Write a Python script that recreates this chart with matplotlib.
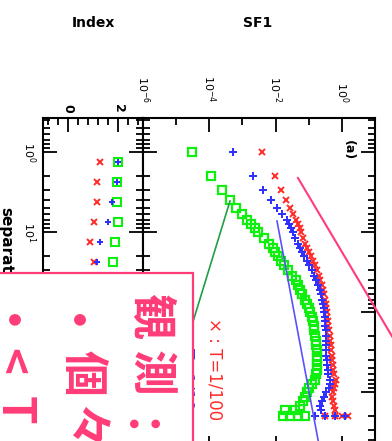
import matplotlib
matplotlib.use('Agg')
import matplotlib.pyplot as plt
from matplotlib.lines import Line2D
from matplotlib.patches import Rectangle
from matplotlib.ticker import MultipleLocator, LogLocator, NullFormatter

# ---------------- data ----------------
# structure function panel (separation vs SF1)
sep = [1, 2, 3, 4, 5, 6, 7, 8, 9, 10, 12, 14, 16, 18, 20, 23, 26, 30, 35, 40,
       46, 53, 60, 70, 80, 90, 100, 115, 130, 150, 170, 200, 230, 260, 300,
       350, 400, 460, 530, 600, 700, 800, 900, 1000, 1150, 1300, 1500, 1700, 2000]
sf1_red = [3.96e-3, 9.70e-3, 1.47e-2, 2.08e-2, 2.74e-2, 3.38e-2, 4.16e-2, 4.77e-2,
           5.48e-2, 5.87e-2, 6.74e-2, 7.74e-2, 8.89e-2, 0.102, 0.117, 0.135, 0.155,
           0.178, 0.204, 0.218, 0.251, 0.269, 0.288, 0.309, 0.331, 0.331, 0.355,
           0.355, 0.380, 0.380, 0.407, 0.436, 0.436, 0.467, 0.467, 0.501, 0.501,
           0.537, 0.537, 0.575, 0.660, 0.616, 0.575, 0.537, 0.501, 0.537, 0.575,
           0.616, 1.51]
sf1_blue = [5.33e-4, 2.12e-3, 4.24e-3, 7.38e-3, 1.12e-2, 1.58e-2, 2.23e-2, 2.56e-2,
            2.94e-2, 3.38e-2, 3.88e-2, 4.77e-2, 5.48e-2, 6.29e-2, 7.22e-2, 8.89e-2,
            0.102, 0.126, 0.144, 0.166, 0.190, 0.218, 0.234, 0.251, 0.269, 0.288,
            0.288, 0.309, 0.309, 0.309, 0.331, 0.331, 0.331, 0.331, 0.331, 0.331,
            0.355, 0.355, 0.380, 0.380, 0.436, 0.436, 0.407, 0.331, 0.288, 0.251,
            0.218, 0.234, 1.23]
sf1_green = [2.92e-5, 1.16e-4, 2.49e-4, 4.33e-4, 6.56e-4, 9.95e-4, 1.40e-3, 1.84e-3,
             2.44e-3, 3.01e-3, 4.58e-3, 6.43e-3, 8.47e-3, 9.73e-3, 1.20e-2, 1.47e-2,
             1.81e-2, 2.39e-2, 3.15e-2, 4.16e-2, 4.77e-2, 5.48e-2, 6.29e-2, 7.74e-2,
             8.89e-2, 0.102, 0.109, 0.126, 0.135, 0.144, 0.144, 0.155, 0.166, 0.166,
             0.178, 0.178, 0.178, 0.178, 0.178, 0.166, 0.155, 0.126, 0.102, 8.89e-2,
             7.74e-2, 6.74e-2, 5.48e-2, 3.88e-2, 2.74e-2]
# extra points in the last separation bins
tail_sep_red = [2000, 2000, 2000]
tail_red = [1.00, 0.60, 0.30]
tail_sep_blue = [2000, 2000, 2000]
tail_blue = [0.616, 0.309, 0.155]
tail_sep_green = [1700, 2000, 2000, 2000]
tail_green = [1.94e-2, 1.69e-2, 4.77e-2, 7.74e-2]

# index panel
sep_idx = [1.33, 2.37, 4.22, 7.50, 13.3, 23.7]
idx_red = [1.29, 1.15, 1.15, 1.05, 0.89, 1.05]
idx_blue = [2.01, 1.97, 1.76, 1.59, 1.28, 1.16]
idx_green = [2.01, 1.97, 1.97, 1.99, 1.89, 1.80]

sf1_ticks = [1e-6, 1e-4, 1e-2, 1e0]
sf1_ticklabels = [r'$10^{-6}$', r'$10^{-4}$', r'$10^{-2}$', r'$10^{0}$']
sf1_minor = [1e-5, 1e-3, 1e-1]
idx_ticks = [0, 2]
idx_ticklabels = ['0', '2']
sep_ticks = [1, 10, 100, 1000]
sep_ticklabels = [r'$10^{0}$', r'$10^{1}$', '', '']

# ---------------- figure ----------------
W, H = 392, 441
fig = plt.figure(figsize=(W / 100, H / 100), dpi=100)


def fx(px):
    return px / W


def fy(py):
    return 1 - py / H


RED = '#ff2a2a'
BLUE = '#3030ff'
GREEN = '#10ee10'
PINK = '#ff3c78'

top_px, bot_px = 118, 450
ax_i = fig.add_axes([fx(43), fy(bot_px), fx(143) - fx(43), (bot_px - top_px) / H])
ax_s = fig.add_axes([fx(143), fy(bot_px), fx(375) - fx(143), (bot_px - top_px) / H])

for ax in (ax_i, ax_s):
    ax.set_yscale('log')
    ax.set_ylim(5300, 0.376)
    ax.yaxis.set_major_locator(LogLocator(base=10))
    ax.yaxis.set_minor_locator(LogLocator(base=10, subs=[2, 3, 4, 5, 6, 7, 8, 9]))
    ax.yaxis.set_minor_formatter(NullFormatter())
    for sp in ax.spines.values():
        sp.set_linewidth(1.5)
    ax.tick_params(which='both', direction='in', top=True, bottom=True,
                   left=True, right=True, width=1.3)
    ax.tick_params(which='major', length=10)
    ax.tick_params(which='minor', length=5)
    ax.tick_params(axis='x', labeltop=True, labelbottom=False)

# index panel
ax_i.set_xlim(-1, 3)
ax_i.set_xticks(idx_ticks, idx_ticklabels, rotation=-90, fontsize=9,
                fontweight='bold')
ax_i.xaxis.set_minor_locator(MultipleLocator(0.4))
ax_i.tick_params(axis='x', pad=4)
ax_i.set_yticks(sep_ticks, sep_ticklabels, rotation=-90, fontsize=8, va='center')
ax_i.set_ylim(5300, 0.376)
ax_i.tick_params(axis='y', pad=4)
ax_i.plot(idx_red, sep_idx, ls='none', marker='x', ms=5, mew=1.4, color=RED)
ax_i.plot(idx_green, sep_idx, ls='none', marker='s', ms=6, mew=1.5,
          mfc='none', mec=GREEN)
ax_i.plot(idx_blue, sep_idx, ls='none', marker='P', ms=5, mew=0, color=BLUE)

# SF1 panel
ax_s.set_xscale('log')
ax_s.set_xlim(1e-6, 1e1)
ax_s.set_xticks(sf1_ticks, sf1_ticklabels, rotation=-90, fontsize=8)
ax_s.set_xticks(sf1_minor, minor=True)
ax_s.xaxis.set_minor_formatter(NullFormatter())
ax_s.tick_params(axis='x', pad=11)
ax_s.tick_params(axis='y', labelleft=False)
ax_s.plot(sf1_red, sep, ls='none', marker='x', ms=5, mew=1.4, color=RED)
ax_s.plot(tail_red, tail_sep_red, ls='none', marker='x', ms=5, mew=1.4, color=RED)
ax_s.plot(sf1_blue, sep, ls='none', marker='P', ms=6, mew=0, color=BLUE)
ax_s.plot(tail_blue, tail_sep_blue, ls='none', marker='P', ms=6, mew=0, color=BLUE)
ax_s.plot(sf1_green, sep, ls='none', marker='s', ms=6, mew=1.6, mfc='none', mec=GREEN)
ax_s.plot(tail_green, tail_sep_green, ls='none', marker='s', ms=6, mew=1.6,
          mfc='none', mec=GREEN)
ax_s.text(0.884, 0.904, '(a)', transform=ax_s.transAxes, rotation=-90,
          ha='center', va='center', fontsize=9, fontweight='bold')

# axis titles
fig.text(fx(93), fy(23), 'Index', ha='center', va='center', fontsize=10,
         fontweight='bold')
fig.text(fx(258), fy(23), 'SF1', ha='center', va='center', fontsize=10,
         fontweight='bold')
fig.text(fx(6), fy(207), 'separation', ha='center', va='top', rotation=-90,
         fontsize=11, fontweight='bold')

# legend texts
fig.text(fx(214), fy(318), '× : T=1/100', ha='center', va='top', rotation=-90,
         fontsize=12, color=RED, zorder=5)
fig.text(fx(187), fy(318), '+ : T=1/10', ha='center', va='top', rotation=-90,
         fontsize=12, color=BLUE, zorder=4)

# slide annotation lines
fig.add_artist(Line2D([fx(298), fx(396)], [fy(178), fy(343)], color=PINK, lw=1.5, zorder=5))
fig.add_artist(Line2D([fx(277), fx(319)], [fy(221), fy(445)], color='#5a50ff', lw=1.2, zorder=5))
fig.add_artist(Line2D([fx(230), fx(192)], [fy(201), fy(325)], color='#1f9e45', lw=1.2, zorder=5))

# pink annotation box
fig.add_artist(Rectangle((fx(-10), fy(460)), fx(203), (460 - 273) / H,
                         facecolor='white', edgecolor=PINK, lw=1.6, zorder=10))

jp = dict(rotation=-90, ha='center', va='center', fontsize=33, color=PINK,
          fontweight='bold', family=['Noto Sans CJK JP', 'DejaVu Sans'], zorder=11)
fig.text(fx(149), fy(316), '観', **jp)
fig.text(fx(149), fy(373), '測', **jp)
fig.text(fx(121), fy(441), '：', **jp)
fig.text(fx(58), fy(336), '・', **jp)
fig.text(fx(82), fy(373), '個', **jp)
fig.text(fx(82), fy(428), '々', **jp)
fig.text(fx(-7), fy(336), '・', **jp)
fig.text(fx(11), fy(362), '<', **jp)
fig.text(fx(14), fy(410), 'T', **jp)

fig.savefig('out.png', dpi=100)
